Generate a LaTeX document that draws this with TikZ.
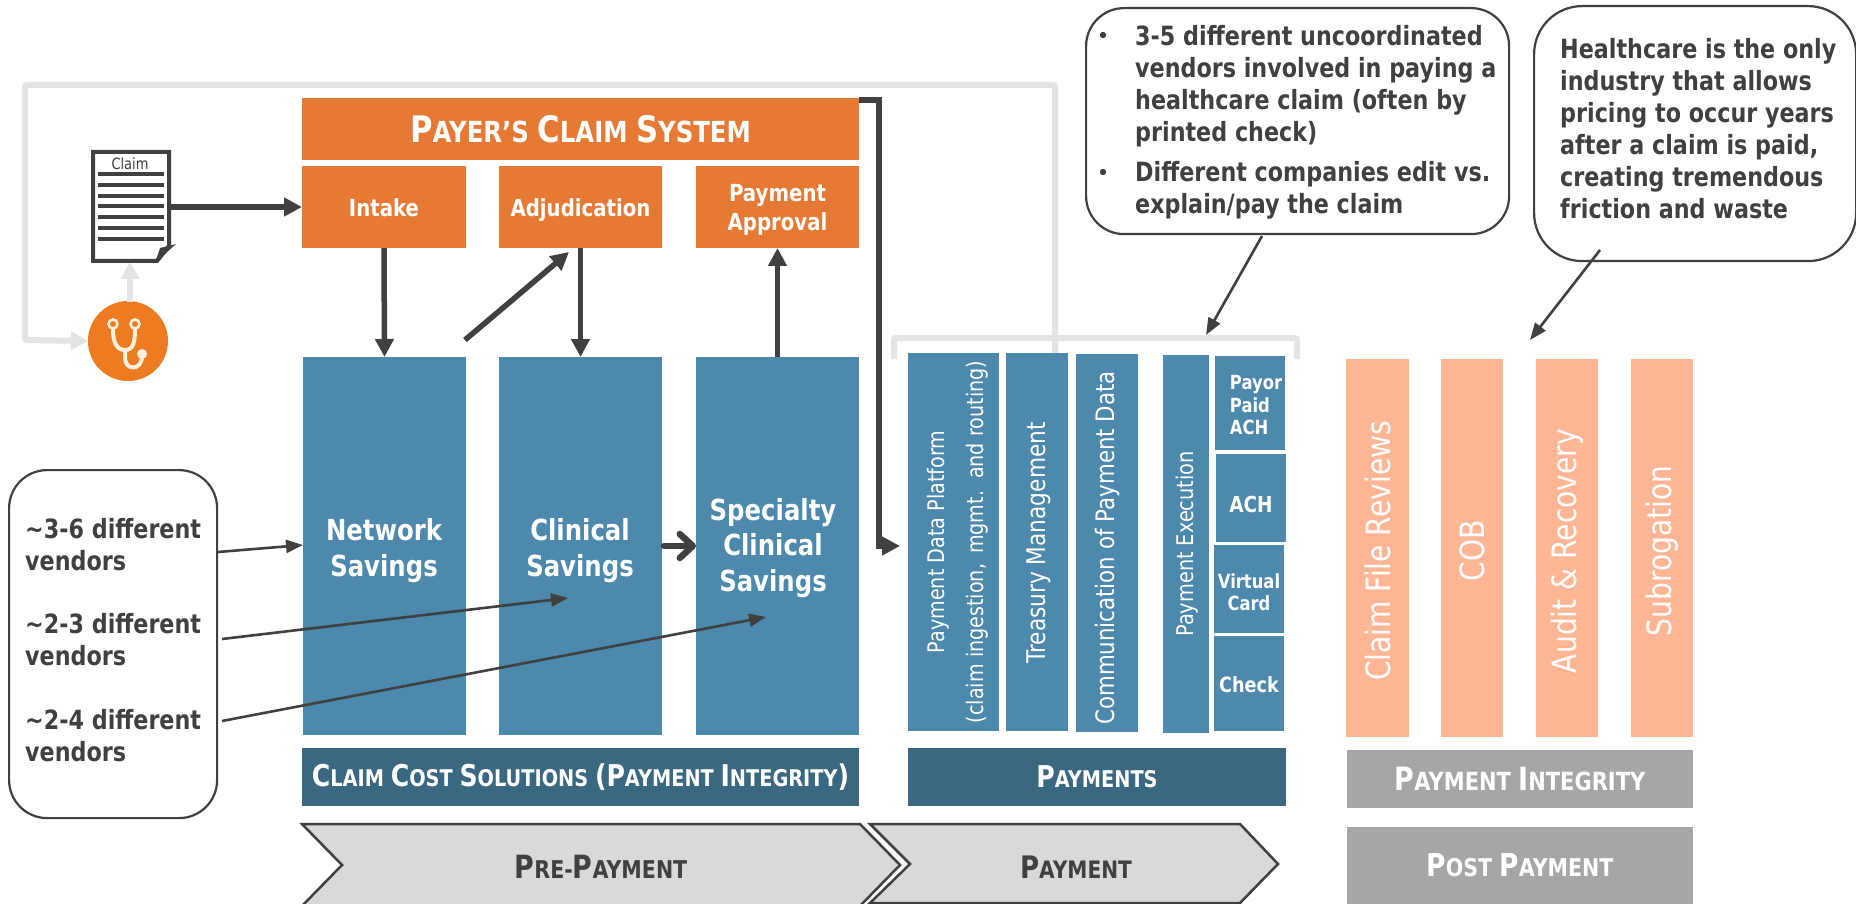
\documentclass[tikz,border=0pt]{standalone}
\usepackage{fontspec}
\usetikzlibrary{arrows.meta,calc}
\setmainfont{DejaVu Sans}[FakeStretch=0.84]
\definecolor{orangeb}{HTML}{E67A35}
\definecolor{iconor}{HTML}{EE7A22}
\definecolor{blueb}{HTML}{4D89AC}
\definecolor{darkb}{HTML}{3A6880}
\definecolor{peach}{HTML}{FFB695}
\definecolor{greyb}{HTML}{A6A6A6}
\definecolor{chev}{HTML}{D9D9D9}
\definecolor{ink}{HTML}{404040}
\definecolor{loopg}{HTML}{E4E4E4}
\definecolor{cream}{HTML}{FFF1DC}
\newcommand\fs[1]{\fontsize{#1}{#1}\selectfont}
\newcommand\dn[2]{\raisebox{0pt}[\dimexpr\height+2\dimexpr#1pt\relax\relax][\depth]{#2}}
\tikzset{
  x=1pt,y=-1pt,
  box/.style={rectangle,inner sep=0pt,outer sep=0pt,anchor=north west,align=center,text=white},
  orangebox/.style={box,fill=orangeb,font=\fs{23.5}\bfseries},
  bluebox/.style={box,fill=blueb},
  bluetext/.style={text=white,font=\fs{29}\bfseries,align=center,inner sep=0pt},
  vbar/.style={box,fill=blueb},
  paybox/.style={box,fill=blueb,font=\fs{19.5}\bfseries},
  peachbox/.style={box,fill=peach},
  peachtext/.style={rotate=90,text=white,font=\fs{33.5},inner sep=0pt},
  vtext/.style={rotate=90,text=white,align=center,inner sep=0pt},
  darkbar/.style={box,fill=darkb,font=\bfseries},
  greybar/.style={box,fill=greyb,font=\bfseries},
  callout/.style={rectangle,draw=ink,line width=2.2pt,fill=white,inner sep=0pt,anchor=north west},
  calltext/.style={text=ink,font=\fontsize{26.5}{32}\selectfont\bfseries,align=left,anchor=north west,inner sep=0pt},
  chevron/.style={draw=ink,line width=2.5pt,fill=chev,line join=miter},
  heavy/.style={draw=ink,line width=5.5pt,-{Triangle[length=18pt,width=18pt]}},
  barbarrow/.style={draw=ink,line width=6.5pt,line cap=round,-{Straight Barb[length=13pt,width=24pt,round]}},
  thinarrow/.style={draw=ink,line width=2.6pt,-{Triangle[length=17pt,width=13pt]}},
  greyline/.style={draw=loopg,line width=6pt,rounded corners=2pt},
}
\begin{document}
\begin{tikzpicture}
\path[use as bounding box] (0,0) rectangle (1856,904);
% grey feedback loop and bracket (behind boxes)
\coordinate (loopstart) at (1055,356);
\coordinate (bl) at (894,359);
\coordinate (br) at (1297,359);
\node[circle,fill=iconor,minimum size=80pt,inner sep=0pt,outer sep=0pt] (doctor) at (128,341) {};
\draw[greyline,-{Triangle[length=17pt,width=18pt]}] (loopstart) -- (1055,85) -- (25,85) -- (25,340) -- (doctor.west);
\draw[greyline] (bl) -- (894,338) -- (1297,338) -- (br);
% stethoscope
\draw[draw=cream,line width=4pt,line cap=round]
  (113,329) .. controls (113,343) and (117,350) .. (125,350)
  .. controls (133,350) and (135,343) .. (135,329);
\draw[draw=cream,line width=4pt,line cap=round]
  (125,350) -- (125,358) .. controls (125,371) and (142,371) .. (142,356);
\draw[draw=cream,line width=2.6pt] (113,324) circle (4.5pt) (135,324) circle (4.5pt);
\fill[cream] (142,354) circle (5pt);
% claim document
\node[rectangle,minimum width=80pt,minimum height=113pt,inner sep=0pt,outer sep=0pt,anchor=north west] (claimdoc) at (91,150) {};
\draw[greyline,-{Triangle[length=17pt,width=18pt]}] (130,302) -- (130,262);
\draw[draw=ink,line width=4pt,fill=white,line join=miter] (93,152) -- (169,152) -- (169,246) -- (157,261) -- (93,261) -- cycle;
\fill[ink] (155,263) -- (160,248) -- (176,244) -- cycle;
\foreach \yy in {174,185,196,206,217,228,239}{\fill[ink] (98,\yy-2) rectangle (164,\yy+2);}
\node[text=ink,font=\fs{15.5},inner sep=0pt] (claimlabel) at (130,163.5) {Claim};
% payer system
\node[orangebox,minimum width=557pt,minimum height=62pt,font=\bfseries] (payer) at (302,98)
  {\fs{36.5}P\fs{29}AYER’S \fs{36.5}C\fs{29}LAIM \fs{36.5}S\fs{29}YSTEM};
\node[orangebox,minimum width=164pt,minimum height=82pt] (intake) at (302,166) {\dn{1}{Intake}};
\node[orangebox,minimum width=163pt,minimum height=82pt] (adjud) at (499,166) {\dn{3}{Adjudication}};
\node[orangebox,minimum width=163pt,minimum height=82pt] (approval) at (696,166) {\dn{4}{\begin{tabular}{@{}c@{}}Payment\\[3.5pt]Approval\end{tabular}}};
% cost blue boxes
\node[bluebox,minimum width=163pt,minimum height=378pt] (network) at (303,357) {};
\node[bluetext] (networkt) at (384,551) {Network\\[7pt]Savings};
\node[bluebox,minimum width=163pt,minimum height=378pt] (clinical) at (499,357) {};
\node[bluetext] (clinicalt) at (580,551) {Clinical\\[7pt]Savings};
\node[bluebox,minimum width=163pt,minimum height=378pt] (special) at (696,357) {};
\node[bluetext] (specialt) at (773,548) {Specialty\\[6.5pt]Clinical\\[6.5pt]Savings};
% payments columns
\node[vbar,minimum width=91pt,minimum height=378pt] (pdp) at (908,353) {};
\node[vtext,font=\fs{22.8}] (pdpt) at (958,542) {Payment Data Platform\\[16pt](claim ingestion,\, mgmt.\, and routing)};
\node[vbar,minimum width=62pt,minimum height=378pt] (treasury) at (1006,353) {};
\node[vtext,font=\fs{25.8}] (treasuryt) at (1039,543) {Treasury Management};
\node[vbar,minimum width=62pt,minimum height=378pt] (comm) at (1076,354) {};
\node[vtext,font=\fs{25.4}] (commt) at (1107,548) {Communication of Payment Data};
\node[vbar,minimum width=46pt,minimum height=378pt] (exec) at (1163,355) {};
\node[vtext,font=\fs{23}] (exect) at (1187,544) {Payment Execution};
\node[paybox,minimum width=70pt,minimum height=94pt,align=left] (payor) at (1215,356) {\hspace*{12pt}\dn{5}{\begin{tabular}{@{}l@{}}Payor\\[2pt]Paid\\[2pt]ACH\end{tabular}}};
\node[paybox,minimum width=70pt,minimum height=88pt,font=\fs{22}\bfseries] (ach) at (1216,454) {\dn{6}{ACH}};
\node[paybox,minimum width=70pt,minimum height=88pt] (virtual) at (1214,545) {\dn{6}{\begin{tabular}{@{}c@{}}Virtual\\[2pt]Card\end{tabular}}};
\node[paybox,minimum width=70pt,minimum height=95pt,font=\fs{21}\bfseries] (check) at (1214,636) {\dn{1}{Check}};
% peach columns
\node[peachbox,minimum width=63pt,minimum height=378pt] (cfr) at (1346,359) {};
\node[peachtext] (cfrt) at (1378,551) {Claim File Reviews};
\node[peachbox,minimum width=62pt,minimum height=378pt] (cob) at (1441,359) {};
\node[peachtext] (cobt) at (1472,551) {COB};
\node[peachbox,minimum width=62pt,minimum height=378pt] (audit) at (1536,359) {};
\node[peachtext] (auditt) at (1567,551) {Audit \& Recovery};
\node[peachbox,minimum width=62pt,minimum height=378pt] (subro) at (1631,359) {};
\node[peachtext] (subrot) at (1662,551) {Subrogation};
% bars
\node[darkbar,minimum width=557pt,minimum height=58pt] (ccs) at (302,748)
  {\fs{30}C\fs{23}LAIM \fs{30}C\fs{23}OST \fs{30}S\fs{23}OLUTIONS \fs{30}(P\fs{23}AYMENT \fs{30}I\fs{23}NTEGRITY\fs{30})};
\node[darkbar,minimum width=378pt,minimum height=58pt] (payments) at (908,748)
  {\fs{30}P\fs{23}AYMENTS};
\node[greybar,minimum width=346pt,minimum height=58pt] (pi) at (1347,750)
  {\fs{32}P\fs{25}AYMENT \fs{32}I\fs{25}NTEGRITY};
\node[greybar,minimum width=346pt,minimum height=77pt] (post) at (1347,827)
  {\fs{31.5}P\fs{24.5}OST \fs{31.5}P\fs{24.5}AYMENT};
% chevrons
\draw[chevron] (302,824) -- (860,824) -- (900,865) -- (860,906) -- (302,906) -- (342,865) -- cycle;
\draw[chevron] (870,824) -- (1240,824) -- (1278,864) -- (1240,903) -- (870,903) -- (910,864) -- cycle;
\node[text=ink,font=\bfseries,inner sep=0pt] (prepay) at (601,867) {\fs{32}P\fs{24.5}RE-\fs{32}P\fs{24.5}AYMENT};
\node[text=ink,font=\bfseries,inner sep=0pt] (paylabel) at (1076,867) {\fs{31}P\fs{24}AYMENT};
% heavy connectors
\draw[heavy] (claimdoc.east |- intake.west) -- (intake.west);
\draw[heavy] (intake.south) -- (network.north);
\draw[heavy] (adjud.south) -- (clinical.north);
\draw[heavy] (special.north) -- (approval.south);
\coordinate (diagfrom) at (465,340);
\coordinate (diagto) at (569,252);
\draw[heavy] (diagfrom) -- (diagto);
\coordinate (barbfrom) at (664,546);
\draw[barbarrow] (barbfrom) -- (special.west |- barbfrom);
\coordinate (payerout) at (859,100);
\coordinate (payerin) at (900,546);
\draw[heavy] (payerout) -- (879,100) -- (879,546) -- (payerin);
% callouts
\node[callout,rounded corners=38pt,minimum width=208pt,minimum height=348pt] (left) at (8,469) {};
\node[calltext] (v1) at (25,518) {\textasciitilde3-6 different\\vendors};
\node[calltext] (v2) at (25,613) {\textasciitilde2-3 different\\vendors};
\node[calltext] (v3) at (25,709) {\textasciitilde2-4 different\\vendors};
\coordinate (c1) at (218,552);
\coordinate (c2) at (222,639);
\coordinate (c3) at (222,721);
\coordinate (d2) at (568,598);
\coordinate (d3) at (766,617);
\draw[thinarrow] (c1) -- (network.west |- 0,545);
\draw[thinarrow] (c2) -- (d2);
\draw[thinarrow] (c3) -- (d3);
\node[callout,rounded corners=38pt,minimum width=423pt,minimum height=226pt] (top) at (1085,7) {};
\node[calltext] (t1) at (1135,25) {3-5 different uncoordinated\\vendors involved in paying a\\healthcare claim (often by\\printed check)\\[8pt]Different companies edit vs.\\explain/pay the claim};
\fill[ink] (1103,35) circle (3.2pt) (1103,172) circle (3.2pt);
\node[callout,rounded corners=48pt,minimum width=322pt,minimum height=255pt] (right) at (1533,5) {};
\node[calltext] (t2) at (1560,38) {Healthcare is the only\\industry that allows\\pricing to occur years\\after a claim is paid,\\creating tremendous\\friction and waste};
\coordinate (e1) at (1206,335);
\coordinate (e2) at (1530,340);
\coordinate (s1) at (1262,236);
\coordinate (s2) at (1600,250);
\draw[thinarrow] (s1) -- (e1);
\draw[thinarrow] (s2) -- (e2);
\end{tikzpicture}
\end{document}
